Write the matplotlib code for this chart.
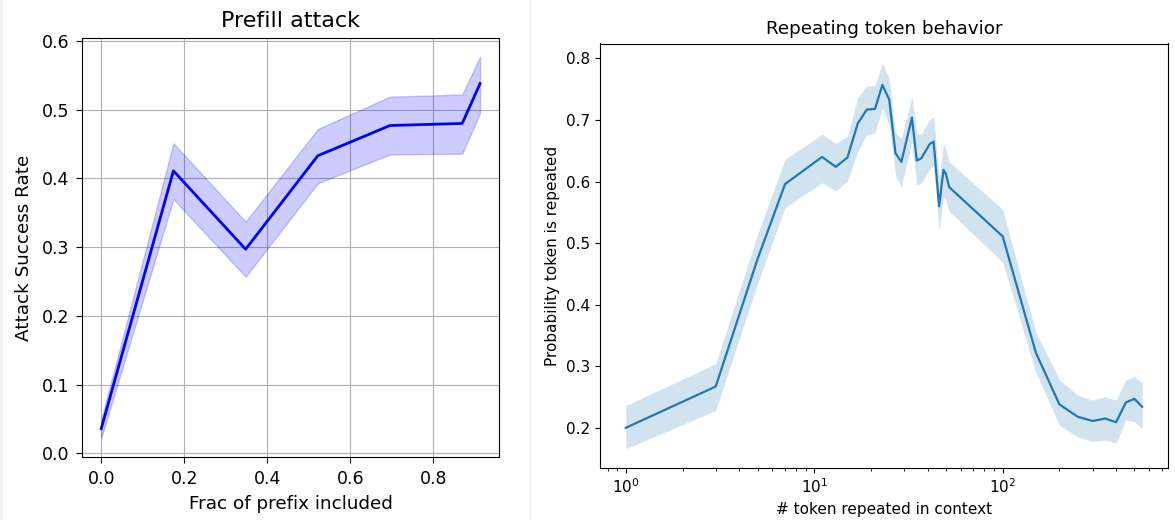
import matplotlib
matplotlib.use("Agg")
import matplotlib.pyplot as plt
from matplotlib.lines import Line2D

# ---- Left panel data: Prefill attack ----
frac_prefix = [0.0, 0.174, 0.348, 0.522, 0.696, 0.870, 0.913]
asr_mean = [0.036, 0.411, 0.297, 0.433, 0.477, 0.480, 0.538]
asr_low = [0.022, 0.370, 0.257, 0.393, 0.435, 0.436, 0.495]
asr_high = [0.049, 0.451, 0.337, 0.472, 0.519, 0.522, 0.577]

# ---- Right panel data: Repeating token behavior ----
n_repeated = [1, 3, 5, 7, 11, 13, 15, 17, 19, 21, 23, 25, 27, 29, 33, 35, 37,
              41, 43, 46, 48.5, 50, 52, 100, 150, 200, 250, 300, 350, 400,
              450, 500, 550]
prob_mean = [0.200, 0.267, 0.474, 0.596, 0.640, 0.624, 0.639, 0.694, 0.717,
             0.718, 0.757, 0.733, 0.646, 0.632, 0.704, 0.634, 0.638, 0.661,
             0.665, 0.560, 0.619, 0.612, 0.591, 0.511, 0.322, 0.238, 0.218,
             0.211, 0.215, 0.209, 0.241, 0.247, 0.234]
prob_low = [0.166, 0.228, 0.434, 0.558, 0.598, 0.585, 0.601, 0.649, 0.676,
            0.679, 0.719, 0.692, 0.610, 0.591, 0.665, 0.594, 0.598, 0.620,
            0.627, 0.520, 0.575, 0.570, 0.552, 0.469, 0.290, 0.204, 0.185,
            0.178, 0.180, 0.175, 0.213, 0.210, 0.199]
prob_high = [0.236, 0.304, 0.514, 0.636, 0.677, 0.662, 0.674, 0.736, 0.755,
             0.756, 0.793, 0.768, 0.679, 0.670, 0.739, 0.676, 0.678, 0.700,
             0.706, 0.605, 0.662, 0.652, 0.632, 0.555, 0.355, 0.278, 0.253,
             0.245, 0.250, 0.245, 0.278, 0.283, 0.273]

W, H = 1175, 520
fig = plt.figure(figsize=(W / 100, H / 100), dpi=100)

# Left axes
axL = fig.add_axes([82.3 / W, (H - 457.3) / H, (499 - 82.3) / W, (457.3 - 37.7) / H])
axL.fill_between(frac_prefix, asr_low, asr_high, color="blue", alpha=0.2)
axL.plot(frac_prefix, asr_mean, color="blue", lw=2)
axL.grid(True)
axL.set_axisbelow(True)
axL.set_title("Prefill attack", fontsize=16, pad=8)
axL.set_xlabel("Frac of prefix included", fontsize=13.2, labelpad=5)
axL.set_ylabel("Attack Success Rate", fontsize=13.2, labelpad=6)
axL.set_xticks([0.0, 0.2, 0.4, 0.6, 0.8])
axL.set_yticks([0.0, 0.1, 0.2, 0.3, 0.4, 0.5, 0.6])
axL.tick_params(labelsize=12.5, length=4.5, pad=5)

# Right axes
axR = fig.add_axes([600 / W, (H - 468) / H, 568 / W, (468 - 43.5) / H])
axR.fill_between(n_repeated, prob_low, prob_high, color="#1f77b4", alpha=0.2, linewidth=0)
axR.plot(n_repeated, prob_mean, color="#1f77b4", lw=1.6)
axR.set_xscale("log")
axR.set_title("Repeating token behavior", fontsize=13.2, pad=7)
axR.set_xlabel("# token repeated in context", fontsize=11)
axR.set_ylabel("Probability token is repeated", fontsize=11)
axR.set_yticks([0.2, 0.3, 0.4, 0.5, 0.6, 0.7, 0.8])
axR.tick_params(labelsize=11)

# faint separator line between the two panels
fig.add_artist(Line2D([530 / W, 530 / W], [0, 1], color="#ebebeb", lw=1))
fig.add_artist(Line2D([0.5 / W, 0.5 / W], [0, 1], color="#ebebeb", lw=1))

fig.savefig("out.png", dpi=100)
